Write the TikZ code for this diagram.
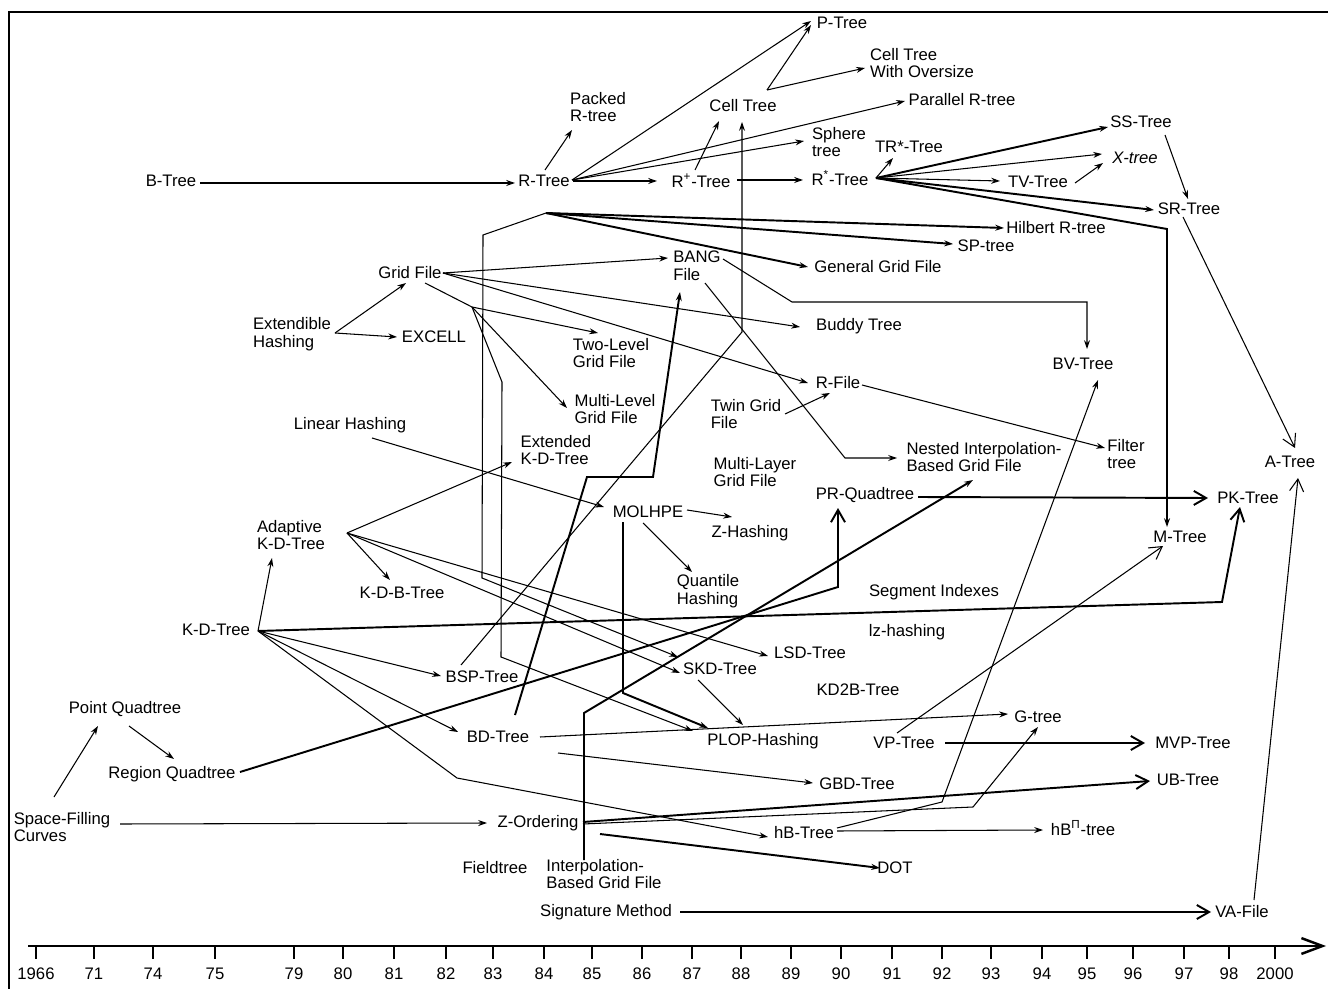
\documentclass[tikz,border=0pt]{standalone}
\usepackage{fontspec}
\setmainfont{Liberation Sans}
\usetikzlibrary{calc,arrows.meta}
\begin{document}
\begin{tikzpicture}[x=0.02cm,y=-0.02cm,
  lbl/.style={font=\fontsize{9.5}{10}\selectfont,inner sep=1pt,align=left},
  con/.style={line width=0.6pt},
  thk/.style={line width=1.1pt},
  arr/.style={-{Stealth[length=5pt,width=3.4pt]}},
  barb/.style={-{Straight Barb[length=7pt,width=8pt]}},
  tick/.style={line width=1.4pt},
  yr/.style={font=\fontsize{9.5}{10}\selectfont,inner sep=0pt}]
\useasboundingbox (0,0) rectangle (1328,989);
\draw[line width=1.2pt] (9,989) -- (9,12) -- (1328,12);

% ---------- nodes ----------
\node[lbl] (btree) at (171,181) {B-Tree};
\node[lbl] (rtree) at (544,181) {R-Tree};
\node[lbl] (packed) at (598,107) {Packed\\R-tree};
\node[lbl] (celltree) at (743,106) {Cell Tree};
\node[lbl] (ptree) at (842,23) {P-Tree};
\node[lbl] (ctwo) at (922,63) {Cell Tree\\With Oversize};
\node[lbl] (parallel) at (962,100) {Parallel R-tree};
\node[lbl] (sphere) at (839,142) {Sphere\\tree};
\node[lbl] (rplus) at (701,181) {R\textsuperscript{+}-Tree};
\node[lbl] (rstar) at (840,178) {R\textsuperscript{*}-Tree};
\node[lbl] (trstar) at (909,147) {TR*-Tree};
\node[lbl] (sstree) at (1141,122) {SS-Tree};
\node[lbl] (xtree) at (1135,158) {\textit{X-tree}};
\node[lbl] (tvtree) at (1038,182) {TV-Tree};
\node[lbl] (srtree) at (1189,209) {SR-Tree};
\node[lbl] (hilbert) at (1056,228) {Hilbert R-tree};
\node[lbl] (sptree) at (986,246) {SP-tree};
\node[lbl] (ggf) at (878,267) {General Grid File};
\node[lbl] (bang) at (697,266) {BANG\\File};
\node[lbl] (gridfile) at (410,273) {Grid File};
\node[lbl] (exthash) at (292,334) {Extendible\\Hashing};
\node[lbl] (excell) at (434,337) {EXCELL};
\node[lbl] (buddy) at (859,326) {Buddy Tree};
\node[lbl] (twolevel) at (611,353) {Two-Level\\Grid File};
\node[lbl] (multilevel) at (615,409) {Multi-Level\\Grid File};
\node[lbl] (bvtree) at (1083,364) {BV-Tree};
\node[lbl] (rfile) at (838,383) {R-File};
\node[lbl] (twingrid) at (746,414) {Twin Grid\\File};
\node[lbl] (linhash) at (350,425) {Linear Hashing};
\node[lbl] (extkd) at (556,450) {Extended\\K-D-Tree};
\node[lbl] (nibgf) at (984,457) {Nested Interpolation-\\Based Grid File};
\node[lbl] (filter) at (1126,454) {Filter\\tree};
\node[lbl] (multilayer) at (755,472) {Multi-Layer\\Grid File};
\node[lbl] (atree) at (1290,462) {A-Tree};
\node[lbl] (prquad) at (865,495) {PR-Quadtree};
\node[lbl] (pktree) at (1248,498) {PK-Tree};
\node[lbl] (molhpe) at (648,512) {MOLHPE};
\node[lbl] (zhash) at (750,533) {Z-Hashing};
\node[lbl] (adaptkd) at (291,535) {Adaptive\\K-D-Tree};
\node[lbl] (mtree) at (1180,537) {M-Tree};
\node[lbl] (kdb) at (402,593) {K-D-B-Tree};
\node[lbl] (quantile) at (708,591) {Quantile\\Hashing};
\node[lbl] (segment) at (934,592) {Segment Indexes};
\node[lbl] (kdtree) at (216,630) {K-D-Tree};
\node[lbl] (lzhash) at (907,632) {lz-hashing};
\node[lbl] (lsd) at (810,653) {LSD-Tree};
\node[lbl] (bsp) at (482,677) {BSP-Tree};
\node[lbl] (skd) at (720,669) {SKD-Tree};
\node[lbl] (kd2b) at (858,690) {KD2B-Tree};
\node[lbl] (pointquad) at (125,709) {Point Quadtree};
\node[lbl] (bdtree) at (498,737) {BD-Tree};
\node[lbl] (gtree) at (1038,717) {G-tree};
\node[lbl] (plop) at (763,741) {PLOP-Hashing};
\node[lbl] (vptree) at (904,743) {VP-Tree};
\node[lbl] (mvp) at (1193,743) {MVP-Tree};
\node[lbl] (regionquad) at (172,774) {Region Quadtree};
\node[lbl] (gbd) at (857,784) {GBD-Tree};
\node[lbl] (ubtree) at (1188,780) {UB-Tree};
\node[lbl] (sfc) at (62,827) {Space-Filling\\Curves};
\node[lbl] (zorder) at (538,823) {Z-Ordering};
\node[lbl] (hbtree) at (804,833) {hB-Tree};
\node[lbl] (hbpi) at (1083,828) {hB\textsuperscript{Π}-tree};
\node[lbl] (fieldtree) at (495,868) {Fieldtree};
\node[lbl] (ibgf) at (604,874) {Interpolation-\\Based Grid File};
\node[lbl] (dot) at (895,868) {DOT};
\node[lbl] (signature) at (606,912) {Signature Method};
\node[lbl] (vafile) at (1242,912) {VA-File};

% ---------- connectors ----------
\draw[thk,arr] ($(btree)+(29,2)$) -- ($(rtree)+(-29,2)$);
\draw[con,arr] ($(rtree)+(1,-11)$) -- ($(packed)+(-26,23)$);
\coordinate (rfan) at ($(rtree)+(28,-1)$);
\draw[con,arr] (rfan) -- ($(ptree)+(-31,-2)$);
\draw[thk,arr] ($(rtree)+(29,0)$) -- ($(rplus)+(-44,0)$);
\draw[con,arr] (rfan) -- ($(sphere)+(-35,-1)$);
\draw[con,arr] (rfan) -- ($(parallel)+(-57,1)$);
\draw[con,arr] ($(rplus)+(-6,-11)$) -- ($(celltree)+(-24,15)$);
\draw[thk,arr] ($(rplus)+(36,-1)$) -- ($(rstar)+(-37,2)$);
\coordinate (cfan) at ($(celltree)+(24,-16)$);
\draw[con,arr] (cfan) -- ($(ptree)+(-31,2)$);
\draw[con,arr] (cfan) -- ($(ctwo)+(-57,5)$);
\coordinate (sfan) at ($(rstar)+(36,0)$);
\draw[con,arr] (sfan) -- ($(trstar)+(-16,11)$);
\draw[thk,arr] (sfan) -- ($(sstree)+(-33,5)$);
\draw[con,arr] (sfan) -- ($(xtree)+(-33,-4)$);
\draw[con,arr] (sfan) -- ($(tvtree)+(-38,-1)$);
\draw[thk,arr] (sfan) -- ($(srtree)+(-35,1)$);
\draw[thk,arr] (sfan) -- (1167,229) -- ($(mtree)+(-13,-10)$);
\draw[con,arr] ($(tvtree)+(37,1)$) -- ($(xtree)+(-32,5)$);
\draw[con,arr] ($(sstree)+(24,13)$) -- ($(srtree)+(-1,-10)$);
\draw[con,barb] ($(srtree)+(-6,8)$) -- ($(atree)+(5,-14)$);
\draw[con,barb] ($(vafile)+(12,-12)$) -- ($(atree)+(8,16)$);
\draw[thk,barb] ($(signature)+(74,0)$) -- ($(vafile)+(-31,0)$);

\coordinate (apexA) at (546,213);
\draw[thk,arr] (apexA) -- ($(hilbert)+(-52,0)$);
\draw[thk,arr] (apexA) -- ($(sptree)+(-33,-2)$);
\draw[thk,arr] (apexA) -- ($(ggf)+(-70,0)$);
\draw[con,arr] (apexA) -- (483,235) -- (482,578) -- ($(skd)+(-42,-12)$);

\coordinate (gfan1) at ($(gridfile)+(33,0)$);
\draw[con,arr] (gfan1) -- ($(bang)+(-29,-8)$);
\draw[con,arr] (gfan1) -- ($(buddy)+(-59,1)$);
\draw[con,arr] (gfan1) -- ($(rfile)+(-30,0)$);
\coordinate (gfan2) at (472,307);
\draw[con] ($(gridfile)+(15,10)$) -- (gfan2);
\draw[con,arr] (gfan2) -- ($(twolevel)+(-13,-20)$);
\draw[con,arr] (gfan2) -- ($(multilevel)+(-48,-1)$);
\draw[con,arr] (gfan2) -- (502,382) -- (501,657) -- ($(plop)+(-70,-10)$);

\draw[con,arr] ($(exthash)+(43,-1)$) -- ($(gridfile)+(-4,10)$);
\draw[con,arr] ($(exthash)+(43,-1)$) -- ($(excell)+(-37,0)$);

\draw[con,arr] ($(bang)+(26,-7)$) -- (792,302) -- (1087,302) -- ($(bvtree)+(4,-15)$);
\draw[con,arr] ($(bang)+(8,17)$) -- (845,458) -- ($(nibgf)+(-87,1)$);

\draw[con,arr] ($(bsp)+(-21,-12)$) -- (742,332) -- ($(celltree)+(-1,16)$);
\draw[thk,arr] ($(bdtree)+(17,-22)$) -- (587,477) -- (653,477) -- ($(bang)+(-17,26)$);
\draw[thk,arr] ($(molhpe)+(-25,10)$) -- (623,693) -- ($(plop)+(-55,-13)$);
\draw[con,arr] ($(linhash)+(22,13)$) -- ($(molhpe)+(-44,-5)$);
\draw[con,arr] ($(molhpe)+(39,-2)$) -- ($(zhash)+(-18,-16)$);
\draw[con,arr] ($(molhpe)+(-5,11)$) -- ($(quantile)+(-16,-19)$);

\coordinate (afan) at ($(adaptkd)+(56,-2)$);
\draw[con,arr] (afan) -- ($(extkd)+(-44,12)$);
\draw[con,arr] (afan) -- ($(kdb)+(-12,-13)$);
\draw[con,arr] (afan) -- ($(lsd)+(-42,3)$);
\draw[con,arr] (afan) -- ($(skd)+(-40,4)$);

\coordinate (kfan) at ($(kdtree)+(42,1)$);
\draw[con,arr] (kfan) -- ($(adaptkd)+(-19,23)$);
\draw[thk,barb] (kfan) -- (1222,602) -- ($(pktree)+(-8,9)$);
\draw[con,arr] (kfan) -- ($(bsp)+(-41,-1)$);
\draw[con,arr] (kfan) -- ($(bdtree)+(-40,-5)$);
\draw[con,arr] (kfan) -- (457,778) -- ($(hbtree)+(-36,4)$);

\draw[thk,barb] ($(regionquad)+(68,-2)$) -- (838,587) -- ($(prquad)+(-27,13)$);
\draw[thk,barb] ($(prquad)+(53,2)$) -- ($(pktree)+(-40,0)$);
\draw[thk,arr] ($(ibgf)+(-20,-14)$) -- (584,713) -- ($(nibgf)+(-11,23)$);

\draw[con,arr] ($(twingrid)+(39,0)$) -- ($(rfile)+(-8,10)$);
\draw[con,arr] ($(rfile)+(24,2)$) -- ($(filter)+(-21,-6)$);
\draw[con,arr] ($(skd)+(-22,11)$) -- ($(plop)+(-20,-16)$);
\draw[con,arr] ($(bdtree)+(42,0)$) -- ($(gtree)+(-30,-3)$);
\draw[con,arr] ($(bdtree)+(60,16)$) -- ($(gbd)+(-44,-1)$);
\draw[con,barb] ($(vptree)+(-7,-10)$) -- ($(mtree)+(-17,9)$);
\draw[thk,barb] ($(vptree)+(41,0)$) -- ($(mvp)+(-48,0)$);

\draw[con,arr] ($(sfc)+(58,-3)$) -- ($(zorder)+(-51,0)$);
\draw[con,arr] ($(sfc)+(-8,-30)$) -- ($(pointquad)+(-27,17)$);
\draw[con,arr] ($(pointquad)+(4,17)$) -- ($(regionquad)+(2,-15)$);
\draw[thk,barb] ($(zorder)+(45,-1)$) -- ($(ubtree)+(-38,1)$);
\draw[con,arr] ($(zorder)+(45,1)$) -- (973,807) -- ($(gtree)+(0,10)$);
\draw[con,arr] ($(hbtree)+(33,-5)$) -- (942,802) -- ($(bvtree)+(15,16)$);
\draw[thk,arr] ($(zorder)+(62,11)$) -- ($(dot)+(-15,0)$);
\draw[con,arr] ($(hbtree)+(33,-2)$) -- ($(hbpi)+(-40,2)$);

% ---------- time axis ----------
\coordinate (ax0) at (28,946);
\coordinate (ax1) at (1326,946);
\draw[line width=1.4pt,-{Straight Barb[length=12pt,width=9pt]}] (ax0) -- (ax1);
\foreach \x/\t in {36/1966,94/71,153/74,215/75,294/79,343/80,394/81,446/82,493/83,544/84,592/85,642/86,692/87,741/88,791/89,841/90,892/91,942/92,991/93,1042/94,1087/95,1133/96,1184/97,1229/98,1275/2000}{
  \draw[tick] (\x,946) -- (\x,959);
  \node[yr] (yr\t) at (\x,974) {\t};
}
\end{tikzpicture}
\end{document}
